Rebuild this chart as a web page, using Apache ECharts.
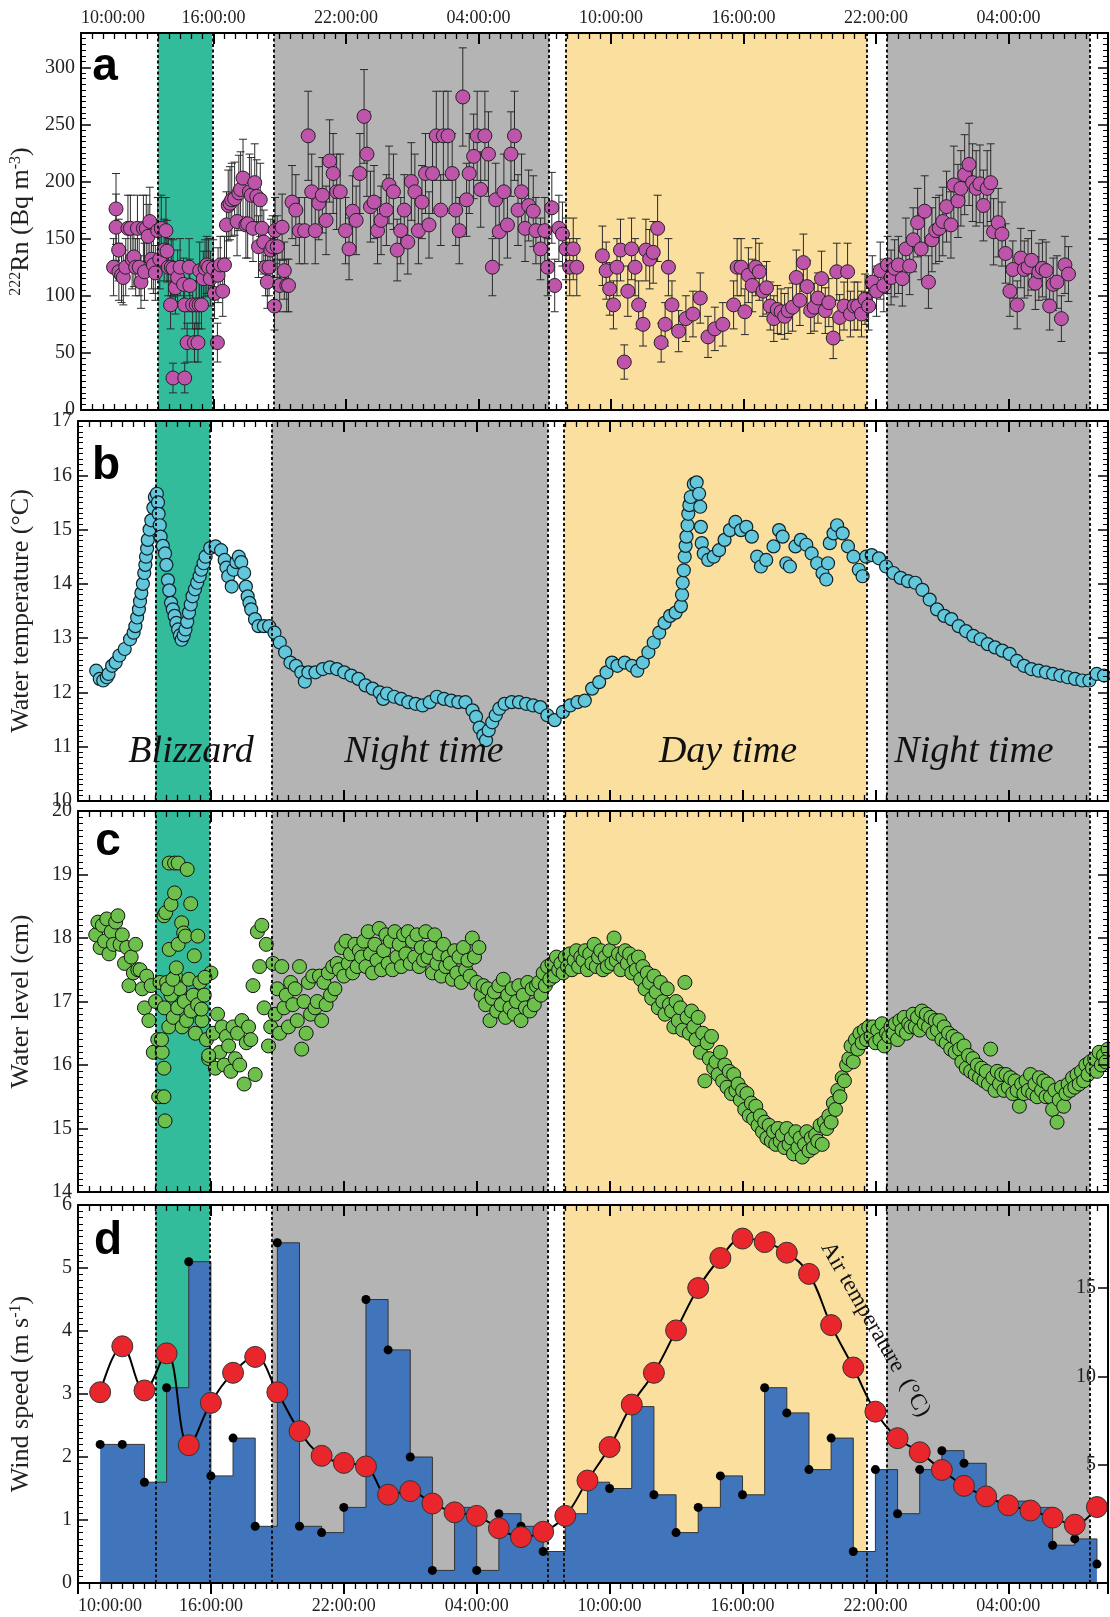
<!DOCTYPE html>
<html lang="en">
<head>
<meta charset="UTF-8">
<title>Radon, water and weather record</title>
<script src="https://cdn.jsdelivr.net/npm/echarts@6/dist/echarts.min.js"></script>
<style>
    html,body{margin:0;padding:0;background:#fff;}
    #chart{width:1110px;height:1617px;}
</style>
</head>
<body>
<div id="chart"></div>
<script>
// x is hours since 10:00 on day 1
var xMax = 46.5;
var blizzard = [3.5, 5.95];
var nights = [[8.75, 21.2], [36.5, 45.67]];
var day = [21.95, 35.6];

// panel a: 222Rn
var rnHours = [
1.48,1.59,1.59,1.71,1.72,1.84,1.92,2.03,2.13,2.24,
2.32,2.40,2.48,2.56,2.64,2.72,2.83,2.88,2.96,3.04,
3.12,3.20,3.28,3.37,3.48,3.57,3.64,3.77,3.85,3.90,
3.96,4.06,4.09,4.17,4.17,4.28,4.38,4.49,4.65,4.70,
4.70,4.81,4.90,4.93,5.06,5.14,5.22,5.30,5.35,5.38,
5.46,5.54,5.62,5.70,5.78,5.86,5.99,6.05,6.18,6.21,
6.31,6.42,6.50,6.59,6.67,6.75,6.83,6.96,7.07,7.15,
7.23,7.34,7.47,7.55,7.63,7.71,7.79,7.87,7.96,8.04,
8.12,8.20,8.28,8.36,8.44,8.52,8.60,8.68,8.76,8.79,
8.89,9.00,9.11,9.21,9.32,9.40,9.56,9.73,9.89,10.13,
10.29,10.45,10.61,10.77,10.93,11.10,11.26,11.42,11.58,11.74,
11.98,12.14,12.30,12.46,12.63,12.82,12.95,13.11,13.27,13.43,
13.59,13.83,13.95,14.15,14.32,14.48,14.64,14.80,14.96,15.12,
15.28,15.44,15.60,15.76,15.92,16.09,16.29,16.41,16.62,16.81,
16.97,17.13,17.29,17.46,17.58,17.78,17.94,18.10,18.29,18.45,
18.63,18.78,18.94,19.15,19.31,19.47,19.63,19.79,19.95,20.11,
20.27,20.48,20.60,20.81,21.00,21.13,21.32,21.45,21.64,21.80,
21.96,22.13,22.29,22.45,23.61,23.78,23.94,24.11,24.27,24.43,
24.60,24.76,24.93,25.09,25.25,25.45,25.58,25.75,25.91,26.11,
26.27,26.45,26.60,26.76,27.06,27.39,27.71,28.04,28.39,28.70,
29.06,29.55,29.71,29.89,30.06,30.22,30.39,30.55,30.71,30.88,
31.04,31.21,31.37,31.53,31.70,31.86,32.02,32.22,32.39,32.55,
32.71,32.88,33.04,33.20,33.37,33.53,33.70,33.86,34.06,34.22,
34.35,34.55,34.71,34.84,35.01,35.17,35.34,35.50,35.66,35.83,
36.02,36.19,36.35,36.52,36.68,36.84,37.01,37.19,37.35,37.52,
37.68,37.88,38.04,38.20,38.37,38.53,38.70,38.86,39.02,39.19,
39.39,39.52,39.71,39.84,40.01,40.21,40.37,40.53,40.70,40.86,
41.03,41.19,41.32,41.53,41.70,41.86,42.06,42.19,42.39,42.55,
42.71,42.88,43.04,43.21,43.37,43.53,43.70,43.86,44.02,44.19,
44.39,44.55,44.71];
var rnValues = [
125,176,160,140,121,118,116,125,159,159,
132,134,125,159,125,112,159,121,159,152,
165,132,127,120,157,132,159,140,157,139,
125,92,125,124,28,107,116,125,110,92,
28,59,125,109,92,59,92,59,92,122,
92,115,124,127,125,115,124,102,59,118,
127,104,127,162,179,181,184,185,165,190,
193,203,162,163,191,188,159,199,187,143,
184,159,147,125,112,125,140,143,91,157,
143,109,160,122,109,109,182,175,157,157,
240,191,157,181,188,166,218,207,191,191,
157,141,174,166,207,257,224,178,182,157,
166,175,197,191,140,157,175,147,200,191,
157,182,207,162,207,240,175,240,240,207,
175,157,274,184,207,222,240,193,240,224,
125,184,156,191,162,224,240,175,191,159,
179,174,157,141,157,125,177,109,159,154,
141,125,141,125,135,122,106,92,125,140,
42,104,141,125,92,75,140,132,138,159,
59,75,125,92,69,80,84,98,64,71,
75,92,125,125,86,118,109,125,121,104,
107,91,80,88,86,82,87,90,116,96,
129,108,87,90,98,115,87,94,63,121,
81,91,121,84,91,91,84,97,91,112,
104,122,109,127,116,124,127,115,141,126,
149,164,141,174,112,149,157,159,165,178,
162,197,183,194,206,215,199,194,198,179,
194,199,156,164,154,137,104,123,92,133,
123,125,131,111,121,124,122,91,110,112,
80,127,119];
var rnErrors = [
25,31,29,27,25,24,24,25,29,29,
26,26,25,29,25,23,29,25,29,28,
30,26,25,24,29,26,29,27,29,27,
25,21,25,25,13,23,24,25,23,21,
13,17,25,23,21,17,21,17,21,25,
21,24,25,25,25,24,25,22,17,24,
25,22,25,29,31,32,32,32,30,33,
33,34,29,30,33,33,29,34,32,27,
32,29,28,25,23,25,27,27,21,29,
27,23,29,25,23,23,32,31,29,29,
39,33,29,32,33,30,36,35,33,33,
29,27,31,30,35,41,37,31,32,29,
30,31,34,33,27,29,31,28,34,33,
29,32,35,29,35,39,31,39,39,35,
31,29,43,32,35,37,39,33,39,37,
25,32,29,33,29,37,39,31,33,29,
31,31,29,27,29,25,31,23,29,28,
27,25,27,25,26,25,23,21,25,27,
15,22,27,25,21,19,27,26,27,29,
17,19,25,21,18,20,20,22,18,19,
19,21,25,25,20,24,23,25,25,22,
23,21,20,21,20,20,20,21,24,22,
25,23,20,21,22,24,20,21,18,25,
20,21,25,20,21,21,20,22,21,23,
22,25,23,25,24,25,25,24,27,25,
28,30,27,31,23,28,29,29,30,31,
29,34,32,33,35,36,34,33,34,31,
33,34,29,30,28,26,22,25,21,26,
25,25,26,23,25,25,25,21,23,23,
20,25,24];

// panel b: water temperature
var tempHours = [
0.82,0.98,1.14,1.30,1.38,1.54,1.70,1.87,2.11,2.35,
2.51,2.59,2.67,2.75,2.80,2.86,2.93,2.99,3.04,3.07,
3.12,3.15,3.23,3.31,3.40,3.47,3.56,3.61,3.64,3.69,
3.73,3.83,3.93,3.99,4.06,4.12,4.20,4.28,4.36,4.44,
4.52,4.60,4.68,4.77,4.85,4.93,5.01,5.09,5.17,5.28,
5.38,5.49,5.57,5.67,5.76,5.97,6.21,6.46,6.62,6.70,
6.78,6.94,7.02,7.15,7.26,7.37,7.50,7.58,7.66,7.74,
7.82,7.99,8.15,8.39,8.63,8.87,9.11,9.35,9.59,9.84,
10.08,10.24,10.40,10.72,11.05,11.37,11.69,12.02,12.34,12.66,
12.98,13.30,13.62,13.78,13.95,14.27,14.59,14.91,15.24,15.56,
15.88,16.20,16.52,16.85,17.17,17.49,17.81,17.97,18.13,18.30,
18.42,18.54,18.70,18.86,19.02,19.26,19.58,19.91,20.23,20.55,
20.87,21.19,21.52,
21.89,22.22,22.55,22.88,23.21,23.53,23.86,24.11,24.35,24.68,
25.01,25.25,25.50,25.75,25.99,26.24,26.48,26.73,26.98,27.22,
27.27,27.30,27.35,27.39,27.43,27.47,27.52,27.55,27.60,27.66,
27.80,27.93,28.04,28.09,28.12,28.16,28.25,28.45,28.70,28.94,
29.19,29.43,29.68,29.93,30.17,30.42,30.66,30.83,31.07,31.40,
31.65,31.81,31.98,32.14,32.39,32.63,32.88,33.12,33.37,33.61,
33.78,33.86,33.94,34.11,34.27,34.52,34.76,35.01,35.25,35.42,
35.58,35.83,36.16,36.48,36.81,37.14,37.47,37.80,38.12,38.45,
38.78,39.11,39.43,39.76,40.09,40.42,40.75,41.07,41.40,41.73,
42.06,42.39,42.71,43.04,43.37,43.70,44.02,44.35,44.68,45.01,
45.34,45.66,45.99,46.32];
var tempValues = [
12.40,12.25,12.22,12.28,12.34,12.49,12.55,12.68,12.80,12.98,
13.10,13.22,13.38,13.53,13.68,13.83,14.00,14.20,14.35,14.50,
14.65,14.81,15.00,15.17,15.40,15.60,15.66,15.50,15.29,15.08,
14.87,14.70,14.56,14.35,14.07,13.88,13.65,13.53,13.41,13.28,
13.16,13.05,12.97,13.05,13.16,13.30,13.47,13.62,13.77,13.90,
14.02,14.14,14.26,14.38,14.50,14.66,14.69,14.62,14.44,14.30,
14.14,13.95,14.26,14.40,14.50,14.40,14.20,13.95,13.77,13.65,
13.53,13.35,13.22,13.22,13.22,13.10,12.92,12.74,12.55,12.49,
12.37,12.20,12.37,12.37,12.43,12.46,12.43,12.37,12.31,12.25,
12.13,12.07,12.00,11.88,11.98,11.92,11.88,11.82,11.79,11.76,
11.82,11.92,11.88,11.85,11.82,11.82,11.67,11.55,11.35,11.21,
11.12,11.30,11.45,11.58,11.70,11.79,11.82,11.82,11.79,11.76,
11.73,11.58,11.49,
11.64,11.76,11.82,11.85,12.07,12.19,12.37,12.55,12.49,12.55,
12.49,12.40,12.55,12.74,12.92,13.10,13.28,13.41,13.47,13.59,
13.80,14.02,14.25,14.50,14.70,14.87,15.08,15.29,15.45,15.60,
15.84,15.87,15.66,15.42,15.05,14.75,14.56,14.44,14.50,14.62,
14.81,14.99,15.14,14.99,15.05,14.87,14.50,14.32,14.44,14.69,
14.99,14.87,14.38,14.32,14.69,14.81,14.72,14.56,14.38,14.20,
14.08,14.38,14.75,14.93,15.08,14.93,14.69,14.50,14.26,14.14,
14.50,14.53,14.47,14.32,14.20,14.11,14.05,14.02,13.89,13.71,
13.53,13.41,13.35,13.22,13.13,13.04,12.98,12.89,12.83,12.77,
12.71,12.58,12.49,12.43,12.40,12.37,12.34,12.31,12.28,12.25,
12.22,12.22,12.34,12.31];

// panel c: water level, one reading every 0.1 h from 0.8 h (one row per hour)
var levelStart = 0.8, levelStep = 0.1;
var levelValues = [
18.05,18.25,17.85,18.2,17.95,18.3,17.75,18.1,17.9,18.25,
18.35,17.9,18.05,17.6,17.85,17.25,17.7,17.45,17.9,17.5,
17.5,17.2,16.9,17.4,16.7,17.25,16.2,17.0,16.4,17.3,
16.2,16.9,17.3,16.6,17.1,16.75,17.4,16.9,17.2,16.6,
17.0,16.7,17.35,16.85,17.1,16.5,16.95,17.3,16.7,17.1,
16.4,16.1,17.45,16.5,15.95,16.8,16.2,16.6,16.0,16.45,
16.3,15.9,16.6,16.1,16.5,16.0,16.7,15.7,16.35,16.6,
16.4,17.25,15.85,18.1,17.55,18.2,16.9,17.9,16.3,16.6,
17.6,16.8,17.2,16.5,17.55,16.9,17.1,16.6,17.3,16.95,
17.2,16.7,17.55,16.25,17.0,16.5,17.3,16.8,17.4,16.9,
17.0,17.4,16.7,17.3,16.95,17.45,17.1,17.55,17.2,17.6,
17.5,17.85,17.4,17.95,17.6,17.75,17.45,17.9,17.55,17.8,
17.7,17.95,17.55,18.1,17.75,17.45,17.9,17.65,18.15,17.5,
17.8,18.05,17.6,17.95,17.5,18.1,17.7,17.9,17.55,18.05,
17.75,18.1,17.6,17.95,17.7,18.05,17.55,17.85,17.65,18.1,
17.7,17.85,17.45,18.05,17.6,17.75,17.4,17.9,17.55,17.7,
17.6,17.35,17.8,17.45,17.7,17.3,17.85,17.5,17.65,17.4,
18.0,17.7,17.3,17.85,17.1,17.25,16.95,17.2,16.7,17.05,
17.15,16.85,17.25,16.95,17.35,16.75,17.1,16.9,17.2,16.8,
17.0,17.25,16.7,17.1,16.9,17.3,16.85,17.2,16.95,17.25,
17.3,17.1,17.45,17.25,17.55,17.35,17.6,17.4,17.7,17.5,
17.6,17.45,17.7,17.55,17.75,17.5,17.65,17.8,17.55,17.7,
17.65,17.8,17.5,17.75,17.6,17.9,17.55,17.7,17.8,17.5,
17.7,17.55,17.8,17.6,18.0,17.65,17.75,17.5,17.7,17.8,
17.6,17.75,17.45,17.65,17.5,17.7,17.35,17.55,17.2,17.45,
17.3,17.05,17.4,17.15,16.9,17.3,17.0,16.8,17.2,16.95,
16.85,16.6,17.0,16.7,16.9,16.55,17.3,16.75,16.5,16.85,
16.6,16.4,16.75,16.2,16.5,15.75,16.35,16.1,16.45,15.95,
16.05,15.85,16.2,15.75,16.0,15.65,15.9,15.55,15.85,15.6,
15.7,15.45,15.6,15.3,15.55,15.2,15.4,15.15,15.35,15.05,
15.2,14.95,15.1,14.85,15.05,14.8,14.95,14.75,15.0,14.8,
14.9,14.7,15.0,14.75,14.85,14.6,14.95,14.7,14.85,14.55,
14.75,14.95,14.65,14.85,14.7,14.9,14.8,15.05,14.75,15.1,
15.0,15.2,15.1,15.4,15.3,15.6,15.5,15.8,15.75,16.0,
16.1,16.3,16.05,16.4,16.25,16.5,16.35,16.55,16.4,16.6,
16.45,16.6,16.35,16.55,16.4,16.65,16.3,16.5,16.45,16.6,
16.5,16.65,16.4,16.7,16.55,16.75,16.5,16.65,16.6,16.8,
16.6,16.75,16.55,16.85,16.65,16.8,16.6,16.75,16.5,16.7,
16.55,16.7,16.4,16.6,16.35,16.5,16.25,16.45,16.2,16.4,
16.25,16.05,16.3,15.95,16.15,15.9,16.1,15.85,16.0,15.8,
15.95,15.75,15.9,15.7,16.25,15.8,15.6,15.9,15.7,15.85,
15.6,15.85,15.65,15.8,15.55,15.75,15.6,15.35,15.7,15.55,
15.75,15.6,15.85,15.55,15.7,15.5,15.8,15.6,15.75,15.5,
15.7,15.5,15.3,15.6,15.1,15.45,15.65,15.35,15.55,15.7,
15.6,15.8,15.65,15.85,15.7,15.9,15.75,16.0,15.85,16.05,
15.95,16.1,15.9,16.2,16.0,16.15,16.05,16.25,16.0,16.1];
// scattered blizzard readings [hour, cm]
var levelBlizzard = [
[3.64,15.5],[3.77,16.4],[3.88,15.95],[3.88,18.35],[3.93,15.12],[3.96,18.4],[4.04,17.2],
[4.12,19.18],[4.12,17.82],[4.2,18.53],[4.28,17.35],[4.36,19.18],[4.36,18.71],[4.44,17.53],
[4.52,19.18],[4.52,17.9],[4.68,18.24],[4.77,18.08],[4.85,18.03],[4.93,19.08],[5.09,18.54],
[5.25,17.72],[5.41,18.03],[5.57,16.88],[5.73,17.38],[5.9,16.15],[3.88,15.5]];

// panel d: hourly wind speed (m/s) and air temperature (degC)
var windHours = [1,2,3,4,5,6,7,8,9,10,11,12,13,14,15,16,17,18,19,20,21,22,23,24,25,26,27,28,29,30,31,32,33,34,35,36,37,38,39,40,41,42,43,44,45,46];
var windValues = [2.2,2.2,1.6,3.1,5.1,1.7,2.3,0.9,5.4,0.9, 0.8,1.2,4.5,3.7,2.0,0.2,1.2,0.2,1.1,0.9,
    0.5,1.1,1.6,1.5,2.8,1.4,0.8,1.2,1.7,1.4, 3.1,2.7,1.8,2.3,0.5,1.8,1.1,1.8,2.1,1.9, 1.3,1.3,1.2,0.6,0.7,0.3];
var airValues = [9.1,11.7,9.2,11.3,6.1,8.5,10.2,11.1,9.1,6.9, 5.5,5.1,4.9,3.3,3.5,2.8,2.3,2.1,1.4,0.9,
    1.2,2.1,4.1,6.0,8.4,10.2,12.6,15.0,16.7,17.8, 17.6,17.0,15.8,12.9,10.5,8.0,6.5,5.7,4.7,3.8, 3.2,2.7,2.4,2.0,1.6,2.6];
var airTicks = [5, 10, 15];

var SERIF = '"Liberation Serif","Times New Roman",serif';
var grids = [
    {left:77, right:2, top:33, height:377},
    {left:77, right:2, top:421, height:380},
    {left:77, right:2, top:811, height:381},
    {left:77, right:2, top:1205, height:378}
];

function timeLabel(v){
    if (v % 6 !== 0) return '';
    var hh = (10 + v) % 24;
    return (hh < 10 ? '0' : '') + hh + ':00:00';
}

function xAx(g, pos, showLabel, inside){
    return {
        type:'value', gridIndex:g, position:pos, min:0, max:xMax, interval:6, z:10,
        axisLine:{onZero:false, lineStyle:{color:'#000', width:2}},
        axisTick:{inside:inside, length:11, lineStyle:{color:'#000', width:2}},
        minorTick:{show:true, splitNumber:12, length:6, lineStyle:{color:'#000', width:1.3}},
        splitLine:{show:false},
        axisLabel:{show:showLabel, formatter:timeLabel, fontFamily:SERIF, fontSize:18, color:'#222',
            margin: pos === 'top' ? 6 : 14, showMaxLabel:false, alignMinLabel:'left'}
    };
}

function yAx(g, pos, min, max, interval, name, showLabel, extra){
    var ax = {
        type:'value', gridIndex:g, position:pos, min:min, max:max, interval:interval, z:10,
        axisLine:{onZero:false, lineStyle:{color:'#000', width:2}},
        axisTick:{inside:true, length:10, lineStyle:{color:'#000', width:1.5}},
        minorTick:{show:true, splitNumber:10, length:5, lineStyle:{color:'#000', width:1}},
        splitLine:{show:false},
        axisLabel:{show:showLabel, fontFamily:SERIF, fontSize:20, color:'#222', margin:6, showMaxLabel: max % interval === 0},
        name:name || '', nameLocation:'middle', nameGap:44, nameRotate:90,
        nameTextStyle:{fontFamily:SERIF, fontSize:26, color:'#222',
            rich:{sup:{fontFamily:SERIF, fontSize:16, color:'#222', verticalAlign:'top', lineHeight:26}}}
    };
    if (extra) Object.assign(ax, extra);
    return ax;
}

function bgSeries(g){
    var areas = [
        [{xAxis:blizzard[0], itemStyle:{color:'#33BC9C'}}, {xAxis:blizzard[1]}],
        [{xAxis:nights[0][0], itemStyle:{color:'#B4B4B4'}}, {xAxis:nights[0][1]}],
        [{xAxis:day[0], itemStyle:{color:'#FADF9F'}}, {xAxis:day[1]}],
        [{xAxis:nights[1][0], itemStyle:{color:'#B4B4B4'}}, {xAxis:nights[1][1]}]
    ];
    var edges = [blizzard[0], blizzard[1], nights[0][0], nights[0][1], day[0], day[1], nights[1][0], nights[1][1]];
    return {
        type:'line', xAxisIndex:g*2, yAxisIndex:g*2, data:[], silent:true, z:1,
        markArea:{silent:true, data:areas},
        markLine:{silent:true, symbol:'none', label:{show:false}, animation:false,
            lineStyle:{color:'#111', type:[3,2.5], width:2},
            data:edges.map(function(e){ return {xAxis:e}; })}
    };
}

var rnData = rnHours.map(function(h, k){ return [h, rnValues[k], rnErrors[k]]; });
var tempData = tempHours.map(function(h, k){ return [h, tempValues[k]]; });
var levelData = levelValues.map(function(v, k){ return [+(levelStart + k * levelStep).toFixed(2), v]; }).concat(levelBlizzard);
var windData = windHours.map(function(h, k){ return [h, windValues[k]]; });
var airData = windHours.map(function(h, k){ return [h, airValues[k]]; });

var chart = echarts.init(document.getElementById('chart'));
var option = {
    backgroundColor:'#fff',
    animation:false,
    grid:grids,
    xAxis:[
        xAx(0,'bottom',false,true), xAx(0,'top',true,true),
        xAx(1,'bottom',false,true), xAx(1,'top',false,true),
        xAx(2,'bottom',false,true), xAx(2,'top',false,true),
        xAx(3,'bottom',true,false), xAx(3,'top',false,true)
    ],
    yAxis:[
        yAx(0,'left',0,330,50,'{sup|222}Rn (Bq m{sup|-3})',true),
        yAx(0,'right',0,330,50,'',false),
        yAx(1,'left',10,17,1,'Water temperature (\u00B0C)',true),
        yAx(1,'right',10,17,1,'',false),
        yAx(2,'left',14,20,1,'Water level (cm)',true),
        yAx(2,'right',14,20,1,'',false),
        yAx(3,'left',0,6,1,'Wind speed (m s{sup|-1})',true),
        yAx(3,'right',-1.7,19.7,null,'',true,{
            interval:undefined,
            axisTick:{inside:true, length:10, customValues:airTicks, lineStyle:{color:'#000', width:1.5}},
            minorTick:{show:false},
            axisLabel:{inside:true, customValues:airTicks, fontFamily:SERIF, fontSize:20, color:'#222', margin:12}
        })
    ],
    series:[
        bgSeries(0), bgSeries(1), bgSeries(2), bgSeries(3),
        {
            type:'custom', xAxisIndex:0, yAxisIndex:0, z:3, silent:true,
            data:rnData,
            renderItem:function(params, api){
                var x = api.value(0), y = api.value(1), e = api.value(2);
                var top = api.coord([x, y + e]), bot = api.coord([x, y - e]);
                var w = 4, st = {stroke:'#2a2a2a', lineWidth:1};
                return {type:'group', children:[
                    {type:'line', shape:{x1:top[0], y1:top[1], x2:bot[0], y2:bot[1]}, style:st},
                    {type:'line', shape:{x1:top[0]-w, y1:top[1], x2:top[0]+w, y2:top[1]}, style:st},
                    {type:'line', shape:{x1:bot[0]-w, y1:bot[1], x2:bot[0]+w, y2:bot[1]}, style:st}
                ]};
            }
        },
        {
            type:'scatter', xAxisIndex:0, yAxisIndex:0, z:4, data:rnData.map(function(d){ return [d[0], d[1]]; }),
            symbolSize:14, itemStyle:{color:'#BE55AB', borderColor:'#222', borderWidth:1, opacity:1}
        },
        {
            type:'scatter', xAxisIndex:2, yAxisIndex:2, z:4, data:tempData,
            symbolSize:13, itemStyle:{color:'#63C7DC', borderColor:'#0f2228', borderWidth:1.2, opacity:1}
        },
        {
            type:'scatter', xAxisIndex:4, yAxisIndex:4, z:4, data:levelData,
            symbolSize:14, itemStyle:{color:'#6CC04B', borderColor:'#111', borderWidth:1, opacity:1}
        },
        {
            type:'line', xAxisIndex:6, yAxisIndex:6, z:3, data:windData, step:'end',
            symbol:'circle', symbolSize:9, showSymbol:true,
            itemStyle:{color:'#000'},
            lineStyle:{color:'#333', width:1},
            areaStyle:{color:'#4075BC', opacity:1}
        },
        {
            type:'line', xAxisIndex:6, yAxisIndex:7, z:5, data:airData, smooth:0.4,
            symbol:'circle', symbolSize:21, showSymbol:true,
            itemStyle:{color:'#E8262B', borderColor:'#333', borderWidth:1},
            lineStyle:{color:'#000', width:2}
        }
    ],
    graphic:[
        {type:'text', x:105, y:67, z:50, style:{text:'a', font:'bold 46px "Liberation Sans Narrow","Liberation Sans",sans-serif', fill:'#000', textAlign:'center', textVerticalAlign:'middle'}},
        {type:'text', x:106, y:466, z:50, style:{text:'b', font:'bold 46px "Liberation Sans Narrow","Liberation Sans",sans-serif', fill:'#000', textAlign:'center', textVerticalAlign:'middle'}},
        {type:'text', x:108, y:842, z:50, style:{text:'c', font:'bold 46px "Liberation Sans Narrow","Liberation Sans",sans-serif', fill:'#000', textAlign:'center', textVerticalAlign:'middle'}},
        {type:'text', x:108, y:1241, z:50, style:{text:'d', font:'bold 46px "Liberation Sans Narrow","Liberation Sans",sans-serif', fill:'#000', textAlign:'center', textVerticalAlign:'middle'}},
        {type:'text', x:191, y:752, z:50, style:{text:'Blizzard', font:'italic 38px "Liberation Serif",serif', fill:'#111', textAlign:'center', textVerticalAlign:'middle'}},
        {type:'text', x:424, y:752, z:50, style:{text:'Night time', font:'italic 38px "Liberation Serif",serif', fill:'#111', textAlign:'center', textVerticalAlign:'middle'}},
        {type:'text', x:728, y:752, z:50, style:{text:'Day time', font:'italic 38px "Liberation Serif",serif', fill:'#111', textAlign:'center', textVerticalAlign:'middle'}},
        {type:'text', x:974, y:752, z:50, style:{text:'Night time', font:'italic 38px "Liberation Serif",serif', fill:'#111', textAlign:'center', textVerticalAlign:'middle'}},
        {type:'text', x:826, y:1244, z:50, rotation:-60 * Math.PI / 180,
            style:{text:'Air temperature  (\u00B0C)', font:'23px "Liberation Serif",serif', fill:'#111', textAlign:'left', textVerticalAlign:'middle'}}
    ]
};
chart.setOption(option);
</script>
</body>
</html>
